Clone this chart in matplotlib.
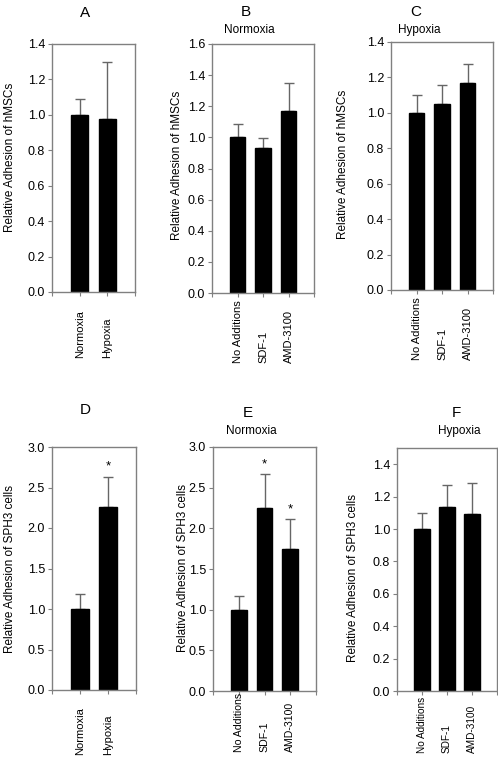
#!/usr/bin/env python3

import matplotlib
matplotlib.use('Agg')
import matplotlib.pyplot as plt
import matplotlib.ticker as mticker

plt.rcParams['font.family'] = ['Liberation Sans', 'DejaVu Sans']

W, H = 498, 778

# Categories
two_groups = ['Normoxia', 'Hypoxia']
three_groups = ['No Additions', 'SDF-1', 'AMD-3100']

# Panel values (mean, upper error bar tip)
a_mean = [1.0, 0.975]
a_top = [1.089, 1.30]
b_mean = [1.0, 0.931, 1.172]
b_top = [1.088, 0.996, 1.348]
c_mean = [1.0, 1.051, 1.166]
c_top = [1.099, 1.16, 1.278]
d_mean = [1.0, 2.255]
d_top = [1.19, 2.635]
e_mean = [1.0, 2.245, 1.744]
e_top = [1.17, 2.67, 2.114]
f_mean = [1.0, 1.135, 1.09]
f_top = [1.098, 1.27, 1.287]

d_star = [False, True]
e_star = [False, True, True]

hmsc_label = 'Relative Adhesion of hMSCs'
sph3_label = 'Relative Adhesion of SPH3 cells'

# name, cats, mean, top, stars, ymax, ytick max, ystep, ylabel,
# axes box (left, right, top, bottom in px), subtitle, letter pos,
# ylabel pos, xlabel bottom offset, xlabel size
panels = [
    ('A', two_groups, a_mean, a_top, None, 1.4, 1.4, 0.2, hmsc_label,
     (52, 135, 44, 292), None, (85, 13), (10, 157), 66, 8),
    ('B', three_groups, b_mean, b_top, None, 1.6, 1.6, 0.2, hmsc_label,
     (212, 314, 44, 293), 'Normoxia', (246, 12), (177, 165), 70, 8),
    ('C', three_groups, c_mean, c_top, None, 1.4, 1.4, 0.2, hmsc_label,
     (391, 493, 42, 290), 'Hypoxia', (416, 12), (343, 164), 70, 8),
    ('D', two_groups, d_mean, d_top, d_star, 3.0, 3.0, 0.5, sph3_label,
     (52, 136, 447, 690), None, (85, 410), (10, 569), 65, 8),
    ('E', three_groups, e_mean, e_top, e_star, 3.0, 3.0, 0.5, sph3_label,
     (213, 316, 447, 691), 'Normoxia', (248, 413), (183, 568), 61, 7.6),
    ('F', three_groups, f_mean, f_top, None, 1.5, 1.4, 0.2, sph3_label,
     (397, 497, 448, 691), 'Hypoxia', (456, 413), (353, 578), 62, 7.2),
]

fig = plt.figure(figsize=(W / 100, H / 100), dpi=100)

spine_col = '#808080'
err_col = '#666666'

for (letter, cats, mean, top, stars, ymax, ytmax, ystep, ylabel,
     box, sub, lpos, ylpos, xoff, xfs) in panels:
    l, r, t, b = box
    ax = fig.add_axes([l / W, 1 - b / H, (r - l) / W, (b - t) / H])
    x = list(range(len(cats)))
    err = [tp - m for m, tp in zip(mean, top)]
    ax.bar(x, mean, width=0.62, color='black', edgecolor='black', zorder=2)
    ax.errorbar(x, mean, yerr=[[0] * len(x), err], fmt='none',
                ecolor=err_col, elinewidth=1.0, capsize=3.5, capthick=1.0,
                zorder=1)
    if stars:
        for xi, tp, s in zip(x, top, stars):
            if s:
                ax.text(xi, tp + 0.12, '*', ha='center', va='center',
                        fontsize=9.5)

    ax.set_xlim(-1, len(cats))
    ax.set_ylim(0, ymax)
    n = int(round(ytmax / ystep))
    ax.set_yticks([i * ystep for i in range(n + 1)])
    ax.yaxis.set_major_formatter(mticker.FormatStrFormatter('%.1f'))
    ax.set_xticks(x)
    ax.xaxis.set_minor_locator(mticker.FixedLocator([-1, len(cats)]))

    tick_len = 3
    ax.tick_params(axis='y', direction='out', length=tick_len, width=0.8,
                   color=spine_col, labelsize=9, pad=2)
    ax.tick_params(axis='x', which='both', direction='out', length=tick_len,
                   width=0.8, color=spine_col)
    ax.set_xticklabels(cats, rotation=90, fontsize=xfs, va='bottom',
                       ha='center')
    ax.tick_params(axis='x', pad=xoff * 0.72 - tick_len)

    for sp in ax.spines.values():
        sp.set_color(spine_col)
        sp.set_linewidth(1.0)

    fig.text(lpos[0] / W, 1 - lpos[1] / H, letter, ha='center',
             va='center', fontsize=11)
    if sub:
        fig.text(lpos[0] / W + 3 / W, 1 - (lpos[1] + 18) / H, sub,
                 ha='center', va='center', fontsize=8.5)
    fig.text(ylpos[0] / W, 1 - ylpos[1] / H, ylabel, rotation=90,
             ha='center', va='center', fontsize=8.5)

fig.savefig('out.png', dpi=100)
